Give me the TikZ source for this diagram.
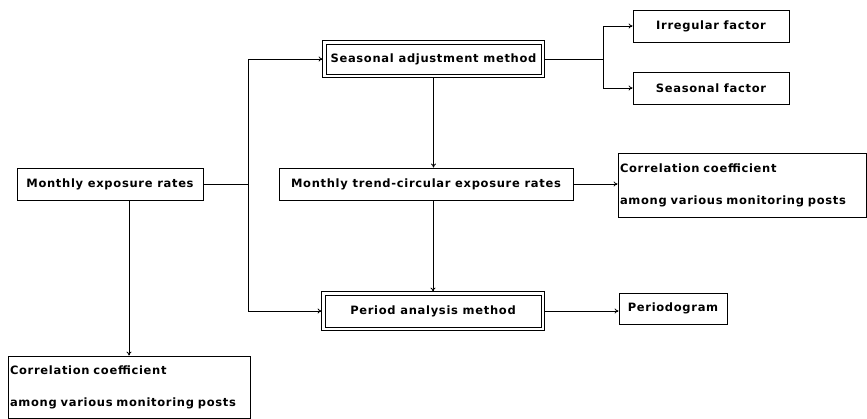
\documentclass[tikz,border=0pt]{standalone}
\usepackage{fontspec}
\setmainfont{DejaVu Sans}[LetterSpace=6]
\usetikzlibrary{arrows.meta}
\begin{document}
\begin{tikzpicture}[x=1pt,y=1pt,
  box/.style={draw,line width=0.8pt,inner sep=0pt,align=center,font=\fontsize{11.5}{13}\selectfont\bfseries},
  cbox/.style={draw,line width=0.8pt,inner sep=2pt,align=left,font=\fontsize{11.5}{32}\selectfont\bfseries},
  conn/.style={line width=0.8pt},
  outer/.style={line width=0.8pt},
  arr/.style={conn,-{To[length=4pt,width=5pt]}}]
\useasboundingbox (0,0) rectangle (867,418);
\node[box,minimum width=186,minimum height=32] (me) at (110,234) {Monthly exposure rates};
\node[box,minimum width=215,minimum height=30] (sa) at (433.5,359) {Seasonal adjustment method};
\draw[outer] ([shift={(-3,-3)}]sa.south west) rectangle ([shift={(3,3)}]sa.north east);
\node[box,minimum width=156,minimum height=32] (irr) at (711,392) {Irregular factor};
\node[box,minimum width=156,minimum height=32] (sf) at (711,330) {Seasonal factor};
\node[box,minimum width=294,minimum height=32] (tr) at (426,234) {Monthly trend-circular exposure rates};
\node[cbox,minimum width=248,minimum height=64,text width=244] (cr) at (742,233) {Correlation coefficient\\among various monitoring posts};
\node[box,minimum width=216,minimum height=32] (pa) at (433,107) {Period analysis method};
\draw[outer] ([shift={(-3,-3)}]pa.south west) rectangle ([shift={(3,3)}]pa.north east);
\node[box,minimum width=108,minimum height=31] (pg) at (673,109.5) {Periodogram};
\node[cbox,minimum width=242,minimum height=62,text width=238] (cb) at (129,31) {Correlation coefficient\\among various monitoring posts};
\coordinate (bus) at (248,234);
\coordinate (br) at (603,359);
\draw[conn] (me.east) -- (bus);
\draw[arr] (bus) |- ([xshift=-3]sa.west);
\draw[arr] (bus) |- ([xshift=-3]pa.west);
\draw[arr] (cb.north |- me.south) -- (cb.north);
\draw[arr] ([yshift=-3]sa.south) -- (sa.south |- tr.north);
\draw[arr] (pa.north |- tr.south) -- ([yshift=3]pa.north);
\draw[conn] ([xshift=3]sa.east) -- (br);
\draw[arr] (br) |- (irr.west);
\draw[arr] (br) |- (sf.west);
\draw[arr] (tr.east) -- (tr.east -| cr.west);
\draw[arr] ([xshift=3]pa.east) -- (pa.east -| pg.west);
\end{tikzpicture}
\end{document}
